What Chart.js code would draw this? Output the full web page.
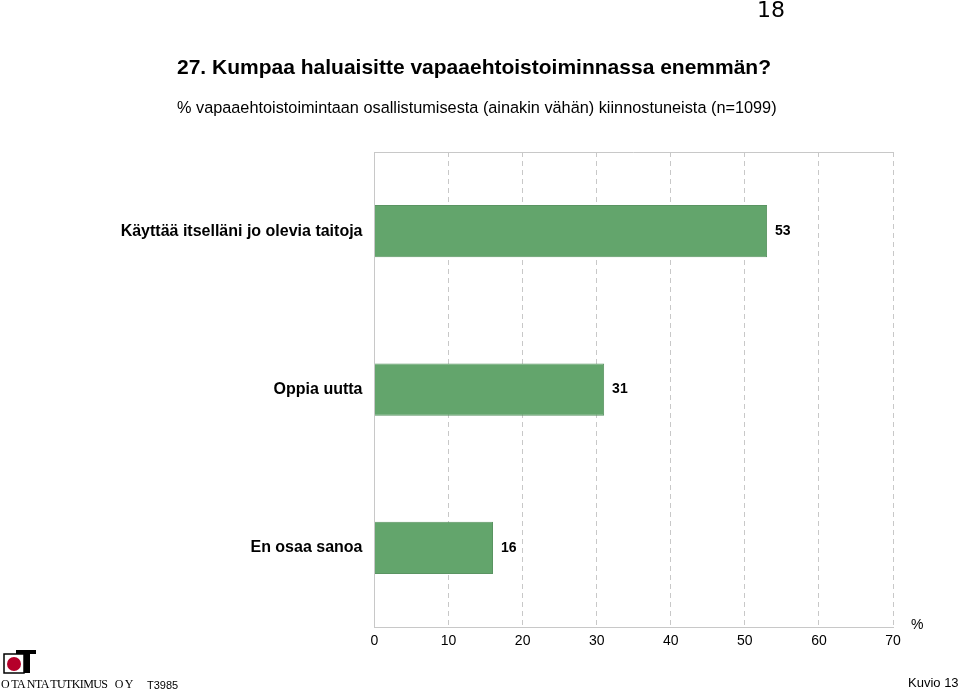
<!DOCTYPE html>
<html>
<head>
<meta charset="utf-8">
<script src="https://cdn.jsdelivr.net/npm/chart.js@4"></script>
<style>
  html, body { margin: 0; padding: 0; background: #fff; }
  #wrap { position: relative; width: 960px; height: 692px; overflow: hidden; font-family: "Liberation Sans", Arial, sans-serif; color: #000; }
  #chart { position: absolute; left: 0; top: 0; }
  .txt { position: absolute; white-space: nowrap; }
  #pageNo { left: 757px; top: -3px; font-size: 22px; font-family: "DejaVu Sans", sans-serif; }
  #title { left: 177px; top: 55px; font-size: 21px; font-weight: bold; }
  #subtitle { left: 177px; top: 98px; font-size: 16.3px; }
  #pct { left: 911px; top: 616px; font-size: 14px; }
  #firm { left: 1px; top: 677px; font-family: "Liberation Serif", serif; font-size: 12px; letter-spacing: -0.6px; }
  #code { left: 147px; top: 679px; font-size: 11px; }
  #kuvio { left: 908px; top: 675px; font-size: 13px; }
  #logo { position: absolute; left: 3px; top: 650px; }
</style>
</head>
<body>
<div id="wrap">
  <canvas id="chart" width="960" height="692"></canvas>
  <div class="txt" id="pageNo">18</div>
  <div class="txt" id="title">27. Kumpaa haluaisitte vapaaehtoistoiminnassa enemmän?</div>
  <div class="txt" id="subtitle">% vapaaehtoistoimintaan osallistumisesta (ainakin vähän) kiinnostuneista (n=1099)</div>
  <div class="txt" id="pct">%</div>
  <svg id="logo" width="34" height="24" viewBox="0 0 34 24">
    <rect x="1" y="4" width="20" height="19" fill="#fff" stroke="#000" stroke-width="1.5"/>
    <circle cx="11" cy="14" r="7" fill="#b5002a"/>
    <rect x="13" y="0" width="20" height="4" fill="#000"/>
    <rect x="21" y="0" width="6" height="23" fill="#000"/>
  </svg>
  <div class="txt" id="firm">O TA NTA TUTKIMUS&nbsp;&nbsp;&nbsp;O Y</div>
  <div class="txt" id="code">T3985</div>
  <div class="txt" id="kuvio">Kuvio 13</div>
</div>
<script>
const categories = ['Käyttää itselläni jo olevia taitoja', 'Oppia uutta', 'En osaa sanoa'];
const values = [53, 31, 16];
const xTicks = [0, 10, 20, 30, 40, 50, 60, 70];

const barColor = '#63a56c';
const barBorder = '#5a9462';

// value label right of each bar + top frame line
const extras = {
  id: 'extras',
  afterDatasetsDraw(chart) {
    const ctx = chart.ctx;
    const area = chart.chartArea;
    ctx.save();
    ctx.strokeStyle = '#c8c8c8';
    ctx.lineWidth = 1;
    ctx.beginPath();
    ctx.moveTo(area.left, area.top + 0.5);
    ctx.lineTo(area.right, area.top + 0.5);
    ctx.stroke();

    ctx.fillStyle = '#000';
    ctx.font = 'bold 14px "Liberation Sans", Arial, sans-serif';
    ctx.textBaseline = 'middle';
    const meta = chart.getDatasetMeta(0);
    meta.data.forEach((bar, i) => {
      ctx.fillText(String(values[i]), bar.x + 8, bar.y);
    });
    ctx.restore();
  }
};

new Chart(document.getElementById('chart').getContext('2d'), {
  type: 'bar',
  data: {
    labels: categories,
    datasets: [{
      data: values,
      backgroundColor: barColor,
      borderColor: barBorder,
      borderWidth: 1,
      barPercentage: 0.33,
      categoryPercentage: 1
    }]
  },
  options: {
    indexAxis: 'y',
    responsive: false,
    animation: false,
    layout: { padding: { top: 152, right: 67, bottom: 0, left: 0 } },
    plugins: {
      legend: { display: false },
      tooltip: { enabled: false }
    },
    scales: {
      x: {
        min: 0,
        max: 70,
        afterBuildTicks: (scale) => { scale.ticks = xTicks.map(v => ({ value: v })); },
        afterFit: (scale) => { scale.height = 65; },
        grid: { color: '#c8c8c8', drawTicks: false, tickLength: 0 },
        border: { display: true, color: '#c8c8c8', dash: [5, 4] },
        ticks: {
          color: '#000',
          padding: 6,
          font: { size: 14, family: '"Liberation Sans", Arial, sans-serif' }
        }
      },
      y: {
        afterFit: (scale) => { scale.width = 374.5; },
        grid: { display: false, drawTicks: false },
        border: { display: true, color: '#c8c8c8' },
        ticks: {
          color: '#000',
          padding: 12,
          font: { size: 16, weight: 'bold', family: '"Liberation Sans", Arial, sans-serif' }
        }
      }
    }
  },
  plugins: [extras]
});
</script>
</body>
</html>
